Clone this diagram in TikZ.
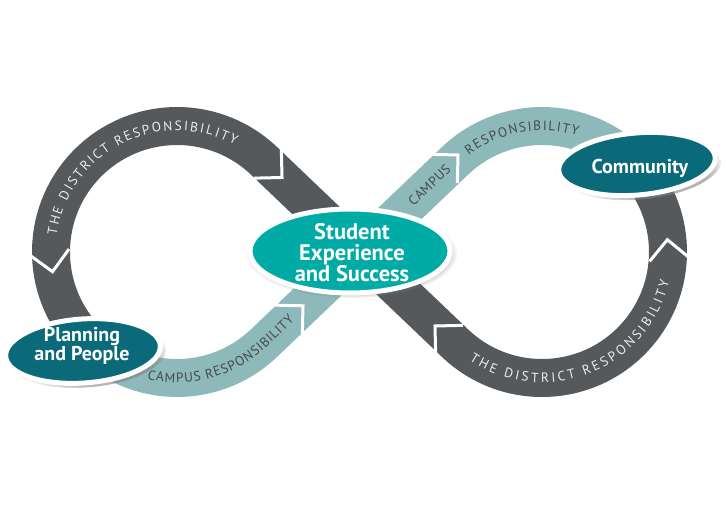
\documentclass[tikz,border=0pt]{standalone}
\usepackage{fontspec}
\setmainfont{PT Sans}
\usetikzlibrary{decorations.text,shapes.geometric,shadows,calc}
\definecolor{darkband}{RGB}{85,89,92}
\definecolor{lightband}{RGB}{142,185,186}
\definecolor{midteal}{RGB}{0,171,165}
\definecolor{deepteal}{RGB}{10,106,121}
\definecolor{bandtextdark}{RGB}{68,74,77}
\definecolor{bandtextlight}{RGB}{236,236,236}
\newcommand\arcfmt{\fontsize{13.5}{16}\selectfont}
\newcommand\chevron[2]{\draw[chev] ($(#1)+(#2+135:28)$) -- (#1) -- ($(#1)+(#2-135:28)$);}
\begin{document}
\begin{tikzpicture}[x=1pt,y=1pt,
  band/.style={line width=38pt,line cap=butt},
  chev/.style={draw=white,line width=3pt,line join=miter,line cap=butt},
  bubble/.style={ellipse,draw=white,line width=5pt,inner sep=0pt,
    circular drop shadow={shadow xshift=1.5pt,shadow yshift=-2.5pt,shadow scale=1.06,opacity=0.6}},
  bubbletext/.style={text=white,align=center,inner sep=0pt}
]
\useasboundingbox (0,0) rectangle (726,504);
\coordinate (L) at (177,252);
\coordinate (R) at (542,252);

% bands
\draw[band,darkband] ($(L)+(222:126)$) arc[start angle=222,end angle=46.33,radius=126]
   -- ($(R)+(226.33:126)$) arc[start angle=226.33,end angle=398,radius=126];
\draw[band,lightband] ($(L)+(232:126)$) arc[start angle=232,end angle=313.67,radius=126]
   -- ($(R)+(133.67:126)$) arc[start angle=133.67,end angle=52,radius=126];

% chevrons
\coordinate (c1) at (282,326.5);
\coordinate (c2) at ($(L)+(189:126)$);
\coordinate (c3) at (303,198.2);
\coordinate (c4) at (458,349);
\coordinate (c5) at (435,178);
\coordinate (c6) at ($(R)+(5.6:126)$);
\chevron{c1}{-43.67}
\chevron{c2}{-81}
\chevron{c3}{43.67}
\chevron{c4}{43.67}
\chevron{c5}{136.33}
\chevron{c6}{95.6}

% band texts
\path[decorate,decoration={text along path,text color=bandtextlight,
  text={|\arcfmt|THE DISTRICT RESPONSIBILITY},text align={fit to path},raise=-4.6pt}]
  ($(L)+(172:126)$) arc[start angle=172,end angle=61.5,radius=126];
\path[decorate,decoration={text along path,text color=bandtextlight,
  text={|\arcfmt|THE DISTRICT RESPONSIBILITY},text align={fit to path},raise=-4.6pt}]
  ($(R)+(236:126)$) arc[start angle=236,end angle=347,radius=126];
\path[decorate,decoration={text along path,text color=bandtextdark,
  text={|\arcfmt|CAMPUS RESPONSIBILITY},text align={fit to path},raise=-4.6pt}]
  ($(L)+(256.7:126)$) arc[start angle=256.7,end angle=313.67,radius=126] -- +(43.67:38);
\path[decorate,decoration={text along path,text color=bandtextdark,
  text={|\arcfmt|CAMPUS},text align={fit to path},raise=-4.6pt}]
  (410.5,300.7) -- (448.5,336.9);
\path[decorate,decoration={text along path,text color=bandtextdark,
  text={|\arcfmt|RESPONSIBILITY},text align={fit to path},raise=-4.6pt}]
  ($(R)+(127:126)$) arc[start angle=127,end angle=73,radius=126];

% ellipses
\node[bubble,fill=midteal,minimum width=200pt,minimum height=84pt] (centre) at (350,253) {};
\node[bubbletext,font=\bfseries\fontsize{22.5}{20.5}\selectfont] (centretext) at (352,251)
  {Student\\Experience\\and Success};
\node[bubble,fill=deepteal,minimum width=157pt,minimum height=62pt,rotate=5] (community) at (637,340) {};
\node[bubbletext,font=\bfseries\fontsize{20}{20}\selectfont] (communitytext) at (640,336) {Community};
\node[bubble,fill=deepteal,minimum width=155pt,minimum height=64pt,rotate=4] (planning) at (83,153) {};
\node[bubbletext,font=\bfseries\fontsize{20}{19}\selectfont] (planningtext) at (82,158)
  {Planning\\and People};
\end{tikzpicture}
\end{document}
